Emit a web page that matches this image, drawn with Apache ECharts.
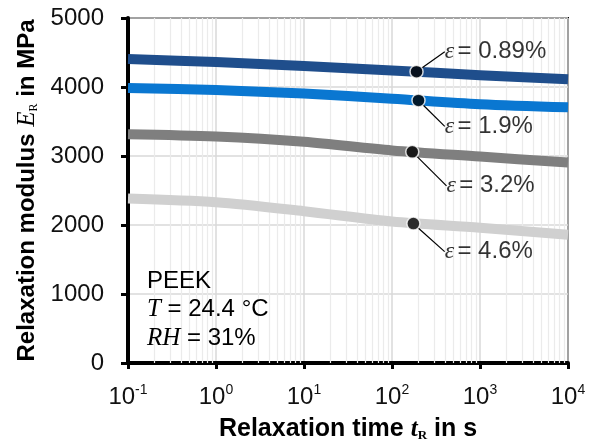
<!DOCTYPE html>
<html>
<head>
<meta charset="utf-8">
<script src="https://cdn.jsdelivr.net/npm/echarts@6/dist/echarts.min.js"></script>
<style>html,body{margin:0;padding:0;background:#fff}#c{width:598px;height:447px}</style>
</head>
<body>
<div id="c"></div>
<script>
// Relaxation time t_R in s
var times = [0.1, 1, 10, 100, 1000, 10000];
// Relaxation modulus E_R in MPa
var e089 = [4405, 4362, 4305, 4240, 4172, 4113];
var e19  = [3985, 3955, 3905, 3830, 3750, 3705];
var e32  = [3315, 3282, 3205, 3080, 2992, 2905];
var e46  = [2385, 2330, 2200, 2050, 1960, 1858];
// marked points
var markTimes = [190, 200, 170, 175];
var markValues = [4222, 3806, 3060, 2020];
var markLabels = ['0.89%', '1.9%', '3.2%', '4.6%'];
var yTicks = [0, 1000, 2000, 3000, 4000, 5000];

var colors = ['#1f4e8c', '#0a77d1', '#7f7f7f', '#d0d0d0'];
var seriesVals = [e089, e19, e32, e46];

var minor = [];
for (var k = -1; k <= 3; k++) for (var m = 2; m <= 9; m++) minor.push(m * Math.pow(10, k));

var sans = 'Liberation Sans, Arial, sans-serif';
var serif = 'Liberation Serif, Times New Roman, serif';

var series = [{
  type: 'line', data: [], z: 1, silent: true,
  markLine: {
    z: 1, silent: true, symbol: 'none', label: {show: false},
    lineStyle: {color: '#ebebeb', width: 1.2, type: 'solid'},
    emphasis: {disabled: true},
    data: minor.map(function (v) { return {xAxis: v}; })
  }
}];
seriesVals.forEach(function (vals, i) {
  series.push({
    type: 'line', smooth: 0.3, symbol: 'none', z: 3,
    lineStyle: {color: colors[i], width: 10, cap: 'butt', join: 'round'},
    data: times.map(function (t, j) { return [t, vals[j]]; })
  });
});
var offs = [[21, -20], [19, 26], [27, 34], [24, 28]];
series.push({
  type: 'scatter', z: 6, symbolSize: 13,
  itemStyle: {color: '#000', borderColor: '#fff', borderWidth: 1.5},
  label: {
    show: true, position: 'right', distance: 0,
    formatter: function (p) { return '{e|ε} {n|= ' + markLabels[p.dataIndex] + '}'; },
    rich: {
      e: {fontFamily: serif, fontStyle: 'italic', fontSize: 24, color: '#000'},
      n: {fontFamily: sans, fontSize: 24, color: '#000'}
    }
  },
  labelLine: {show: true, lineStyle: {color: '#000', width: 1.2}},
  labelLayout: function (p) {
    var o = offs[p.dataIndex];
    return {dx: o[0], dy: o[1]};
  },
  data: markTimes.map(function (t, i) { return [t, markValues[i]]; })
});

var chart = echarts.init(document.getElementById('c'));
chart.setOption({
  animation: false,
  grid: {left: 128, right: 30, top: 18, bottom: 84, show: true, borderColor: '#000', borderWidth: 2},
  xAxis: {
    type: 'log', logBase: 10, min: 0.1, max: 10000,
    name: '{b|Relaxation time }{t|t}{r|R}{b| in s}',
    nameLocation: 'middle', nameGap: 54,
    nameTextStyle: {
      rich: {
        b: {fontFamily: sans, fontWeight: 'bold', fontSize: 25, color: '#000'},
        t: {fontFamily: serif, fontStyle: 'italic', fontWeight: 'bold', fontSize: 25, color: '#000'},
        r: {fontFamily: serif, fontWeight: 'bold', fontSize: 13, color: '#000', verticalAlign: 'bottom', lineHeight: 13}
      }
    },
    axisLine: {show: true, onZero: false, lineStyle: {color: '#000', width: 4}},
    axisTick: {show: true, inside: false, length: 6, lineStyle: {color: '#000', width: 3}},
    axisLabel: {
      margin: 20,
      formatter: function (v) {
        var e = Math.round(Math.log(v) / Math.LN10);
        return '{n|10}{s|' + e + '}';
      },
      rich: {
        n: {fontFamily: sans, fontSize: 24, color: '#111', lineHeight: 28},
        s: {fontFamily: sans, fontSize: 14, color: '#111', verticalAlign: 'top', lineHeight: 14}
      }
    },
    splitLine: {show: true, lineStyle: {color: '#d9d9d9', width: 1.5}},
    minorTick: {show: false}, minorSplitLine: {show: false}
  },
  yAxis: {
    type: 'value', min: 0, max: 5000, interval: 1000,
    name: '{b|Relaxation modulus }{t|E}{r|R}{b| in MPa}',
    nameLocation: 'middle', nameGap: 82, nameRotate: 90,
    nameTextStyle: {
      rich: {
        b: {fontFamily: sans, fontWeight: 'bold', fontSize: 24, color: '#000'},
        t: {fontFamily: serif, fontStyle: 'italic', fontSize: 25, color: '#000'},
        r: {fontFamily: serif, fontSize: 12, color: '#000', verticalAlign: 'bottom', lineHeight: 12}
      }
    },
    axisLine: {show: true, lineStyle: {color: '#000', width: 4}},
    axisTick: {show: true, inside: false, length: 7, lineStyle: {color: '#000', width: 3}},
    axisLabel: {
      margin: 24, fontFamily: sans, fontSize: 24, color: '#111',
      formatter: function (v) { return yTicks.indexOf(v) >= 0 ? String(v) : ''; }
    },
    splitLine: {show: true, lineStyle: {color: '#d9d9d9', width: 1.5}}
  },
  graphic: [{
    type: 'text', left: 147, top: 267, z: 10,
    style: {
      text: 'PEEK\n{i|T} = 24.4 °C\n{i|RH} = 31%',
      fontFamily: sans, fontSize: 24, lineHeight: 28.5, fill: '#000',
      rich: {
        i: {fontFamily: serif, fontStyle: 'italic', fontSize: 25, fill: '#000', lineHeight: 28.5}
      }
    }
  }],
  series: series
});
</script>
</body>
</html>
